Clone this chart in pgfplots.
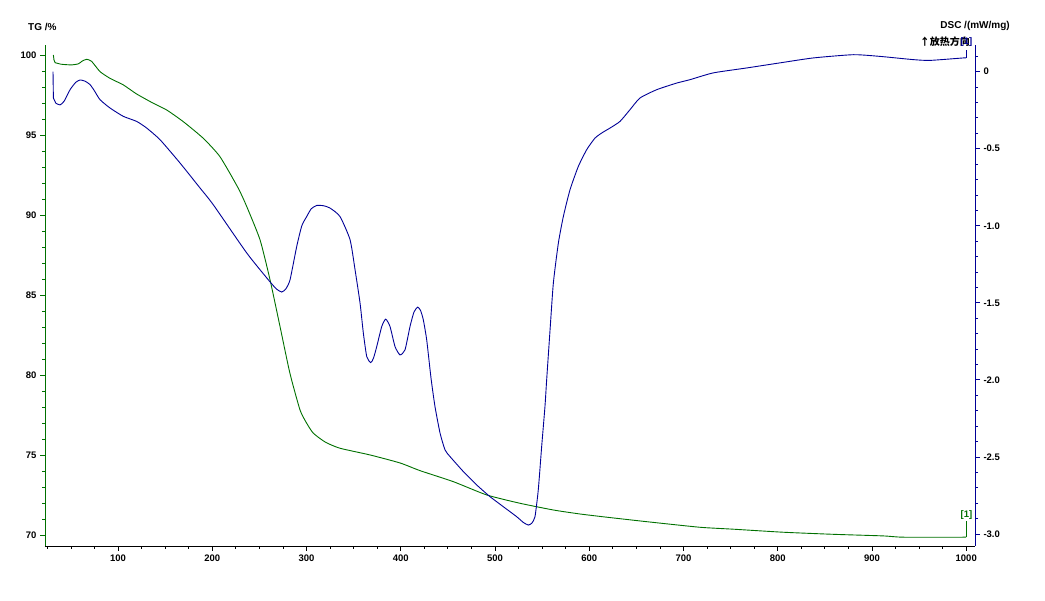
\documentclass[border=0pt]{standalone}
\usepackage{pgfplots}
\pgfplotsset{compat=1.18}
\usepackage{fontspec}
\setmainfont{Liberation Sans}
\newfontfamily\cjk{Noto Sans CJK SC}
\definecolor{tggreen}{RGB}{0,112,0}
\definecolor{dscblue}{RGB}{0,0,150}
\begin{document}
\begin{tikzpicture}[x=1pt,y=1pt]
\useasboundingbox (0,0) rectangle (1045,601);
\begin{axis}[
  at={(45pt,55pt)}, anchor=south west,
  scale only axis, width=930pt, height=501pt,
  xmin=22.5, xmax=1009.3, ymin=69.31, ymax=100.625,
  axis x line*=bottom, axis y line*=left,
  x axis line style={black,-,line width=0.9pt},
  y axis line style={tggreen,-,line width=0.9pt},
  xtick={100,200,...,1000}, minor xtick={25,50,...,1000},
  ytick={70,75,...,100}, minor ytick={69,70,...,100},
  tick align=outside, major tick length=5pt, minor tick length=3pt,
  x tick style={black,line width=0.8pt},
  y tick style={tggreen,line width=0.8pt},
  ticklabel style={font=\fontsize{9.5}{11}\selectfont\bfseries},
  /pgf/number format/assume math mode=true,
  /pgf/number format/1000 sep={},
]
\addplot[tggreen, line width=0.9pt, no markers, smooth, tension=0.35] coordinates {
(33.2,99.52) (40,99.42) (50.9,99.38) (58,99.45) (62,99.62) (66.8,99.73) (72,99.6) (80.9,98.96) (91.5,98.54) (105.6,98.13) (119.8,97.56) (137.5,96.98) (151.7,96.56) (169.3,95.83) (190.5,94.79) (208.2,93.64) (227.6,91.67) (236.6,90.52) (250.7,88.44) (261.3,85.94) (271.9,83.02) (282.4,80.1) (293.1,77.81) (300,77.0) (307.2,76.36) (320,75.8) (335.5,75.42) (367.4,75.0) (399.2,74.5) (420.4,74.02) (455.8,73.33) (491.2,72.5) (526.5,71.98) (561.9,71.56) (590.2,71.31) (620,71.1) (664,70.81) (717.5,70.48) (752.9,70.36) (805.9,70.17) (859,70.04) (912,69.94) (933.2,69.86) (1000,69.86)
};
\addplot[tggreen, line width=0.9pt, no markers] coordinates {(31.4,100.0) (32,99.7) (33.2,99.52)};
\addplot[tggreen, line width=0.9pt, no markers] coordinates {(1000,69.86) (1000,70.9)};
\end{axis}
\begin{axis}[
  at={(45pt,55pt)}, anchor=south west,
  scale only axis, width=930pt, height=501pt,
  xmin=22.5, xmax=1009.3, ymin=-3.078, ymax=0.173,
  axis x line=none, axis y line*=right,
  y axis line style={dscblue,-,line width=0.9pt},
  ytick={-3,-2.5,-2,-1.5,-1,-0.5,0},
  yticklabels={-3.0,-2.5,-2.0,-1.5,-1.0,-0.5,0},
  minor ytick={-3.0,-2.9,-2.8,-2.7,-2.6,-2.5,-2.4,-2.3,-2.2,-2.1,-2.0,-1.9,-1.8,-1.7,-1.6,-1.5,-1.4,-1.3,-1.2,-1.1,-1.0,-0.9,-0.8,-0.7,-0.6,-0.5,-0.4,-0.3,-0.2,-0.1,0,0.1},
  tick align=outside, major tick length=5pt, minor tick length=3pt,
  y tick style={dscblue,line width=0.8pt},
  ticklabel style={font=\fontsize{9.5}{11}\selectfont\bfseries},
]
\addplot[dscblue, line width=0.9pt, no markers] coordinates {(31,0.0) (31.4,-0.171) (34,-0.205)};
\addplot[dscblue, line width=0.9pt, no markers, smooth, tension=0.35] coordinates {
(34,-0.205) (38.5,-0.216) (43,-0.19) (49.1,-0.117) (55,-0.07) (59.7,-0.054) (65,-0.062) (70.3,-0.084) (75,-0.125) (80.9,-0.182) (91.5,-0.236) (105.6,-0.290) (119.8,-0.323) (130.4,-0.366) (144.6,-0.442) (165.8,-0.593) (187,-0.755) (201.1,-0.864) (236.6,-1.177) (259.5,-1.351) (268,-1.41) (273.7,-1.430) (278,-1.41) (282.5,-1.351) (289.6,-1.134) (295,-1.0) (300.2,-0.94) (305,-0.89) (310.8,-0.868) (318,-0.87) (324.9,-0.885) (335.5,-0.94) (346.2,-1.091) (351.5,-1.286) (356.8,-1.502) (360.3,-1.697) (363.9,-1.849) (368.1,-1.888) (371,-1.86) (374.5,-1.784) (379.8,-1.654) (384,-1.606) (388.6,-1.654) (393.9,-1.784) (399.2,-1.838) (404.5,-1.805) (409.8,-1.654) (414,-1.56) (418,-1.528) (421,-1.55) (423.9,-1.61) (427.5,-1.74) (432.1,-1.989) (436.3,-2.173) (441.7,-2.346) (447,-2.455) (452.3,-2.498) (466.4,-2.595) (480.6,-2.682) (494.7,-2.758) (508.8,-2.823) (523,-2.888) (530,-2.925) (535.3,-2.942) (539,-2.93) (542.4,-2.888) (545.9,-2.714) (549.5,-2.433) (553,-2.173) (554.8,-2.0) (558.4,-1.675) (561.9,-1.372) (567.2,-1.113) (572.5,-0.94) (579.6,-0.766) (588.4,-0.615) (597.3,-0.506) (606.1,-0.431) (614,-0.395) (622,-0.366) (632.6,-0.323) (643.2,-0.247) (653.8,-0.171) (671.6,-0.117) (692.8,-0.074) (706.9,-0.052) (731.6,-0.008) (767.1,0.024) (802.4,0.057) (837.7,0.089) (880.2,0.110) (908.5,0.099) (943.9,0.078) (961.5,0.073) (996.9,0.089) (1000,0.089)
};
\addplot[dscblue, line width=0.9pt, no markers] coordinates {(1000,0.089) (1000,0.141)};
\end{axis}
\node[anchor=west, inner sep=0pt, font=\fontsize{10}{12}\selectfont\bfseries] at (28,574) {TG /\%};
\node[anchor=east, inner sep=0pt, font=\fontsize{10}{12}\selectfont\bfseries] at (1010,575) {DSC /(mW/mg)};
\node[anchor=east, inner sep=0pt, font=\fontsize{10}{12}\selectfont\cjk\bfseries] at (970,559) {↑放热方向};
\node[inner sep=0pt, text=dscblue, font=\fontsize{9.5}{11}\selectfont\bfseries] at (966.5,559) {[1]};
\node[inner sep=0pt, text=tggreen, font=\fontsize{9.5}{11}\selectfont\bfseries] at (966.5,86) {[1]};
\end{tikzpicture}
\end{document}
